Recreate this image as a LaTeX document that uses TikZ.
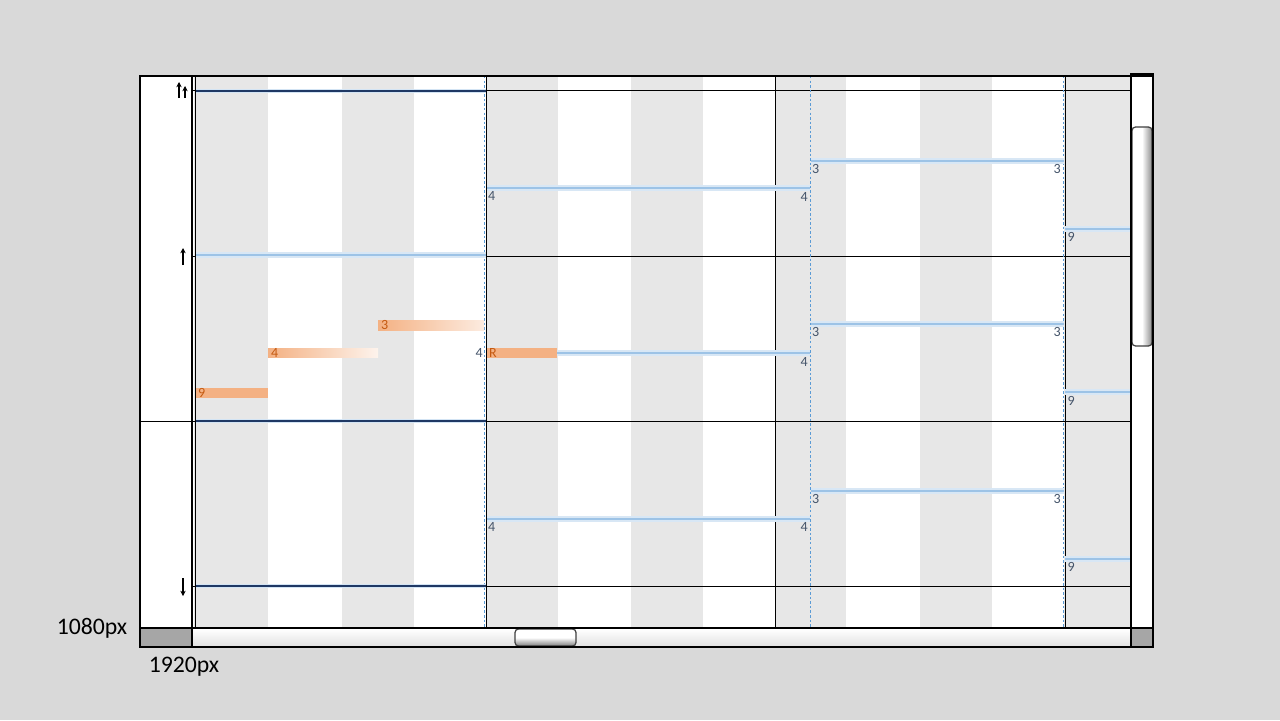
\documentclass[tikz,border=0pt]{standalone}
\usepackage{fontspec}
\setmainfont{Carlito}
\usepackage{xcolor}
\usepackage{tikz}
\usetikzlibrary{arrows.meta, positioning}
\definecolor{canvasgray}{RGB}{217,217,217}
\definecolor{stripegray}{RGB}{231,231,231}
\definecolor{cornergray}{RGB}{166,166,166}
\definecolor{barblue}{RGB}{157,195,230}
\definecolor{dashblue}{RGB}{91,155,213}
\definecolor{deepnavy}{RGB}{31,56,100}
\definecolor{slatetext}{RGB}{68,84,106}
\definecolor{barorange}{RGB}{244,177,131}
\definecolor{textorange}{RGB}{197,90,17}

\begin{document}
\begin{tikzpicture}[
  x=0.02cm, y=-0.02cm,
  >={Stealth[length=3pt, width=3pt]},
  gridline/.style={black, line width=0.45pt},
  frameline/.style={black, line width=1.5pt},
  tickline/.style={dashblue, line width=0.55pt, dash pattern=on 1.4pt off 1.2pt},
  bluebar/.style={barblue, line width=1.2pt, preaction={draw=barblue!40, line width=3.2pt}},
  navybar/.style={deepnavy, line width=0.7pt, preaction={draw=barblue!45, line width=2.4pt}},
  barlabel/.style={font=\fontsize{8}{9}\selectfont, text=slatetext, inner sep=0.5pt},
  orangelabel/.style={barlabel, text=textorange},
  sizelabel/.style={font=\fontsize{13.5}{16}\selectfont, text=black, inner sep=0pt}
]
\useasboundingbox (0,0) rectangle (1280,720);
\fill[canvasgray] (0,0) rectangle (1280,720);

% row header panel and time grid
\fill[white] (140,76) rectangle (192,628);
\fill[white] (192,76) rectangle (1131,628);
\foreach \a/\b in {194/268, 342/414, 486/558, 631/703, 775/846, 920/992, 1064/1131}
  \fill[stripegray] (\a,77) rectangle (\b,628);

% horizontal rows
\foreach \y in {90,256,586}
  \draw[gridline] (192,\y) -- (1131,\y);
\draw[gridline] (140,421) -- (1131,421);

% vertical markers
\foreach \x in {486.5,775,1065}
  \draw[gridline] (\x,76) -- (\x,628);
\foreach \x in {484.8,810,1063.3}
  \draw[tickline] (\x,76) -- (\x,628);

% left segments
\draw[navybar] (195,91) -- (486,91);
\draw[bluebar] (195,255) -- (486,255);
\draw[navybar] (195,421) -- (486,421);
\draw[navybar] (195,586) -- (486,586);

% blue bars, upper row
\draw[bluebar] (487,188) -- (810,188);
\node[barlabel, anchor=north west] (u4a) at (487,190) {4};
\node[barlabel, anchor=north east] (u4b) at (809,191) {4};
\draw[bluebar] (811,161) -- (1064,161);
\node[barlabel, anchor=north west] (u3a) at (811,163) {3};
\node[barlabel, anchor=north east] (u3b) at (1062,163) {3};
\draw[bluebar] (1065,229) -- (1131,229);
\node[barlabel, anchor=north west] (u9) at (1066.5,231) {9};

% middle row
\fill[barorange] (195,388) rectangle (268,398);
\node[orangelabel, anchor=west] (m9) at (197,393) {9};
\shade[left color=barorange, right color=barorange!15] (268,348) rectangle (378,357);
\node[orangelabel, anchor=west] (m4o) at (270,353) {4};
\shade[left color=barorange, right color=barorange!25] (378,320) rectangle (484,330);
\node[orangelabel, anchor=west] (m3o) at (380,325) {3};
\fill[barorange] (487,348) rectangle (557,358);
\node[orangelabel, anchor=west] (mR) at (488,353) {R};
\node[barlabel, anchor=east] (m4a) at (484,353) {4};
\draw[bluebar] (557,353) -- (810,353);
\node[barlabel, anchor=north east] (m4b) at (809,356) {4};
\draw[bluebar] (811,324) -- (1064,324);
\node[barlabel, anchor=north west] (m3a) at (811,326) {3};
\node[barlabel, anchor=north east] (m3b) at (1062,326) {3};
\draw[bluebar] (1065,392) -- (1131,392);
\node[barlabel, anchor=north west] (m9b) at (1066.5,395) {9};

% lower row
\draw[bluebar] (487,519) -- (810,519);
\node[barlabel, anchor=north west] (l4a) at (487,521) {4};
\node[barlabel, anchor=north east] (l4b) at (809,521) {4};
\draw[bluebar] (811,491) -- (1064,491);
\node[barlabel, anchor=north west] (l3a) at (811,493) {3};
\node[barlabel, anchor=north east] (l3b) at (1062,493) {3};
\draw[bluebar] (1065,559) -- (1131,559);
\node[barlabel, anchor=north west] (l9) at (1066.5,561) {9};

% header arrows
\draw[->, line width=0.6pt] (179,98) -- (179,82);
\draw[->, line width=0.6pt] (185,98) -- (185,86);
\draw[->, line width=0.6pt] (183,265) -- (183,248);
\draw[->, line width=0.6pt] (183,578) -- (183,596);

% scrollbars
\fill[white] (1131,74) rectangle (1153,628);
\shade[left color=white, right color=black!45, middle color=white, rounded corners=2pt,
  draw=black!75, line width=0.7pt] (1132,127) rectangle (1152,346);
\draw[frameline] (1131,74) rectangle (1153,628);
\shade[top color=white, bottom color=black!12] (193,629) rectangle (1131,647);
\shade[top color=white, bottom color=black!50, middle color=white, rounded corners=2pt,
  draw=black!75, line width=0.7pt] (515,629) rectangle (576,646);
\fill[cornergray] (140,628) rectangle (192,647);
\fill[cornergray] (1131,628) rectangle (1153,647);

% frame
\draw[frameline] (140,76) rectangle (1153,647);
\draw[frameline] (140,628) -- (1153,628);
\draw[frameline] (192,76) -- (192,647);
\draw[gridline] (195,76) -- (195,628);
\draw[frameline] (1131,76) -- (1131,647);

% size captions
\node[sizelabel] (hcap) at (92,628) {1080px};
\node[sizelabel] (wcap) at (184,667) {1920px};
\end{tikzpicture}
\end{document}
